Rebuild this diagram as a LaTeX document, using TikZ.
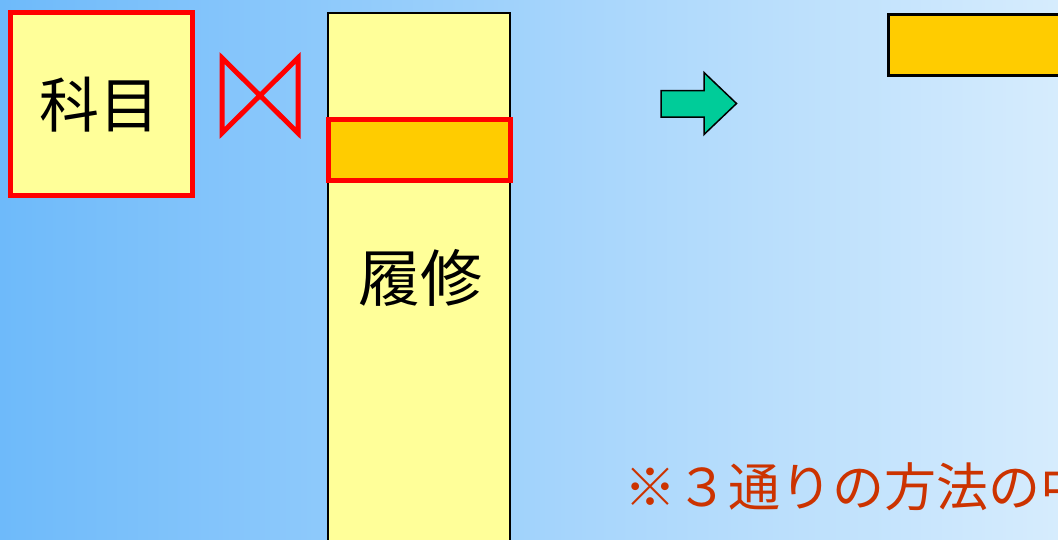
\documentclass[tikz,border=0pt]{standalone}
\usepackage{fontspec}
\newfontfamily\jp{Noto Sans CJK JP}
\definecolor{bgl}{RGB}{110,186,250}
\definecolor{bgr}{RGB}{214,236,253}
\definecolor{paleyel}{RGB}{255,255,153}
\definecolor{gold}{RGB}{255,204,0}
\definecolor{boxred}{RGB}{255,0,0}
\definecolor{arrowgreen}{RGB}{0,204,153}
\definecolor{noteorange}{RGB}{204,51,0}
\tikzset{
  redbox/.style={draw=boxred, line width=5pt, fill=paleyel, inner sep=0pt},
  tallbox/.style={draw=black, line width=2pt, fill=paleyel, inner sep=0pt},
  keybox/.style={draw=boxred, line width=5pt, fill=gold, inner sep=0pt},
  goldbox/.style={draw=black, line width=2.5pt, fill=gold, inner sep=0pt},
  bigtext/.style={font=\jp\fontsize{60}{72}\selectfont, text=black},
  notetext/.style={font=\jp\fontsize{52}{62}\selectfont, text=noteorange, inner sep=0pt, anchor=west}
}
\begin{document}
\begin{tikzpicture}[x=1pt,y=-1pt]
\useasboundingbox (0,0) rectangle (1058,539);
\clip (0,0) rectangle (1058,539);
\shade[left color=bgl, right color=bgr] (0,0) rectangle (1058,539);
% subject box
\node[redbox, minimum width=182pt, minimum height=183pt] (kamoku) at (101.5,104) {};
\node[bigtext] (kamokutext) at (99,105) {科目};
% join symbol
\draw[boxred, line width=5pt, line join=miter] (222,58) -- (222,133) -- (298,58) -- (298,133) -- cycle;
% tall box
\node[tallbox, minimum width=182pt, minimum height=560pt] (rishu) at (419,293) {};
\node[bigtext, font=\jp\fontsize{62}{74}\selectfont] (rishutext) at (420,278) {履修};
\node[keybox, minimum width=182pt, minimum height=61pt] (key) at (419,149.5) {};
% arrow
\draw[black, line width=1.5pt, fill=arrowgreen, line join=miter]
  (661,90.5) -- (704,90.5) -- (704,72.5) -- (736.5,103.5) -- (704,134.5) -- (704,117) -- (661,117) -- cycle;
% top right box
\node[goldbox, minimum width=240pt, minimum height=61pt, anchor=north west] (result) at (887,13) {};
% note
\node[notetext] (note) at (624,487) {※３通りの方法の中};
\end{tikzpicture}
\end{document}
